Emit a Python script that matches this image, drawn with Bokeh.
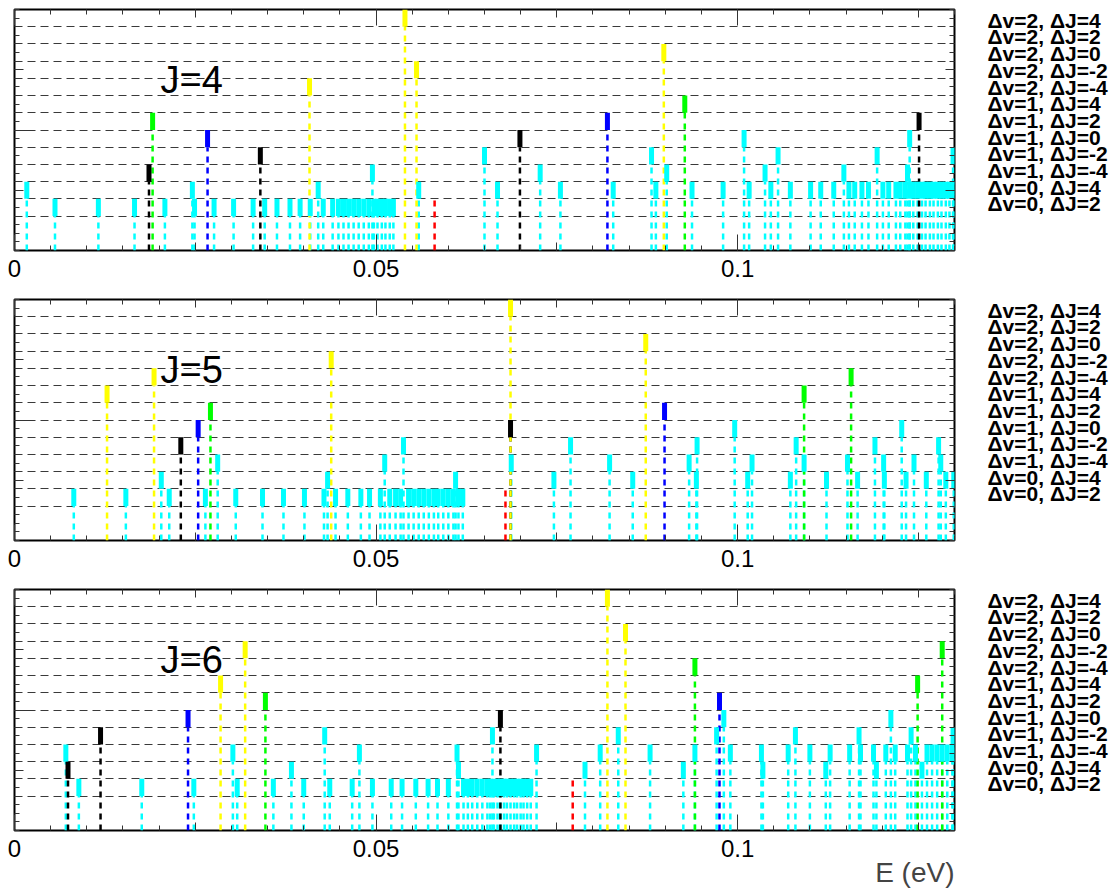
from bokeh.plotting import figure
from bokeh.models import Range1d, FixedTicker, LinearAxis, ColumnDataSource, Title
from bokeh.layouts import column, row
from bokeh.core.properties import value
from bokeh.embed import file_html
from bokeh.resources import INLINE

# ---------------------------------------------------------------------------
# Data: transition energies (eV) and the level at which each marker ends
# ---------------------------------------------------------------------------
E_MAX = 0.13
LEVEL_MAX = 14

ROW_LABELS = ["Δv=2, ΔJ=4", "Δv=2, ΔJ=2", "Δv=2, ΔJ=0", "Δv=2, ΔJ=-2", "Δv=2, ΔJ=-4",
              "Δv=1, ΔJ=4", "Δv=1, ΔJ=2", "Δv=1, ΔJ=0", "Δv=1, ΔJ=-2", "Δv=1, ΔJ=-4",
              "Δv=0, ΔJ=4", "Δv=0, ΔJ=2"]
X_TICKS = [0, 0.05, 0.1]
X_TICK_LABELS = ["0", "0.05", "0.1"]
PANEL_NAMES = ["J=4", "J=5", "J=6"]

# J = 4
J4_CYAN = [(0.0017, 4), (0.0056, 3), (0.0116, 3), (0.0166, 3), (0.0208, 3), (0.0246, 4), (0.0249, 3),
           (0.0276, 3), (0.0303, 3), (0.0330, 3), (0.0346, 3), (0.0363, 3), (0.0381, 3), (0.0395, 3),
           (0.0409, 3), (0.0420, 4), (0.0427, 3), (0.0440, 3), (0.0448, 3), (0.0455, 3), (0.0462, 3),
           (0.0469, 3), (0.0476, 3), (0.0483, 3), (0.0490, 3), (0.0495, 5), (0.0497, 3), (0.0502, 3),
           (0.0508, 3), (0.0513, 3), (0.0519, 3), (0.0524, 3), (0.0559, 4), (0.0650, 6), (0.0668, 4),
           (0.0727, 5), (0.0755, 4), (0.0828, 4), (0.0881, 6), (0.0887, 4), (0.0902, 5), (0.0937, 4),
           (0.0980, 4), (0.1009, 7), (0.1016, 4), (0.1038, 5), (0.1046, 4), (0.1056, 6), (0.1073, 4),
           (0.1101, 4), (0.1115, 4), (0.1133, 4), (0.1147, 5), (0.1154, 4), (0.1162, 4), (0.1172, 4),
           (0.1181, 4), (0.1193, 6), (0.1201, 4), (0.1209, 4), (0.1219, 4), (0.1225, 4), (0.1232, 4),
           (0.1235, 5), (0.1238, 7), (0.1238, 4), (0.1243, 4), (0.1249, 4), (0.1255, 4), (0.1260, 4),
           (0.1266, 4), (0.1271, 4), (0.1277, 4), (0.1282, 4), (0.1288, 4), (0.1293, 4), (0.1298, 6),
           (0.1299, 4)]
J4_YELLOW = [(0.0408, 10), (0.0540, 14), (0.0556, 11), (0.0898, 12)]
J4_GREEN = [(0.0191, 8), (0.0927, 9)]
J4_BLUE = [(0.0267, 7), (0.0820, 8)]
J4_BLACK = [(0.0186, 5), (0.0340, 6), (0.0699, 7), (0.1251, 8)]
J4_RED = [(0.0581, 3)]

# J = 5
J5_CYAN = [(0.0082, 3), (0.0154, 3), (0.0203, 4), (0.0214, 3), (0.0264, 3), (0.0281, 5), (0.0306, 3),
           (0.0343, 3), (0.0372, 3), (0.0401, 3), (0.0428, 3), (0.0433, 4), (0.0444, 3), (0.0461, 3),
           (0.0479, 3), (0.0491, 3), (0.0506, 3), (0.0512, 5), (0.0519, 3), (0.0527, 3), (0.0534, 3),
           (0.0538, 6), (0.0545, 3), (0.0552, 3), (0.0559, 3), (0.0566, 3), (0.0573, 3), (0.0580, 3),
           (0.0586, 3), (0.0593, 3), (0.0600, 3), (0.0607, 3), (0.0610, 4), (0.0614, 3), (0.0620, 3),
           (0.0687, 5), (0.0746, 4), (0.0769, 6), (0.0823, 5), (0.0855, 4), (0.0933, 5), (0.0943, 4),
           (0.0944, 6), (0.0996, 7), (0.1014, 4), (0.1020, 5), (0.1073, 4), (0.1081, 6), (0.1092, 5),
           (0.1123, 4), (0.1152, 5), (0.1166, 4), (0.1190, 6), (0.1202, 5), (0.1203, 4), (0.1227, 7),
           (0.1233, 4), (0.1244, 5), (0.1261, 4), (0.1278, 6), (0.1281, 5), (0.1288, 4), (0.1299, 4)]
J5_YELLOW = [(0.0128, 9), (0.0193, 10), (0.0438, 11), (0.0686, 14), (0.0873, 12)]
J5_GREEN = [(0.0271, 8), (0.1092, 9), (0.1157, 10)]
J5_BLUE = [(0.0254, 7), (0.0899, 8)]
J5_BLACK = [(0.0230, 6), (0.0686, 7)]
J5_RED = [(0.0679, 3)]

# J = 6
J6_CYAN = [(0.0071, 5), (0.0089, 3), (0.0176, 3), (0.0248, 3), (0.0302, 5), (0.0308, 3), (0.0358, 3),
           (0.0383, 4), (0.0400, 3), (0.0429, 6), (0.0436, 3), (0.0467, 3), (0.0477, 5), (0.0495, 3),
           (0.0521, 3), (0.0536, 3), (0.0555, 3), (0.0572, 3), (0.0585, 3), (0.0600, 3), (0.0612, 5),
           (0.0614, 4), (0.0621, 3), (0.0627, 3), (0.0633, 3), (0.0640, 3), (0.0647, 3), (0.0654, 3),
           (0.0658, 3), (0.0661, 6), (0.0663, 3), (0.0668, 3), (0.0672, 3), (0.0677, 3), (0.0681, 3),
           (0.0686, 3), (0.0691, 3), (0.0695, 3), (0.0700, 3), (0.0704, 3), (0.0709, 3), (0.0714, 3),
           (0.0722, 5), (0.0789, 4), (0.0810, 5), (0.0835, 6), (0.0879, 5), (0.0925, 4), (0.0941, 5),
           (0.0971, 6), (0.0981, 7), (0.0990, 5), (0.1033, 5), (0.1035, 4), (0.1070, 5), (0.1080, 6),
           (0.1100, 5), (0.1122, 4), (0.1128, 5), (0.1155, 5), (0.1168, 6), (0.1170, 5), (0.1188, 5),
           (0.1192, 4), (0.1205, 5), (0.1212, 7), (0.1218, 5), (0.1235, 5), (0.1240, 6), (0.1246, 5),
           (0.1255, 4), (0.1262, 5), (0.1269, 5), (0.1276, 5), (0.1283, 5), (0.1290, 5), (0.1297, 5),
           (0.1298, 6)]
J6_YELLOW = [(0.0285, 9), (0.0319, 11), (0.0820, 14), (0.0845, 12)]
J6_GREEN = [(0.0347, 8), (0.0941, 10), (0.1249, 9), (0.1283, 11)]
J6_BLUE = [(0.0240, 7), (0.0975, 8)]
J6_BLACK = [(0.0074, 4), (0.0119, 6), (0.0672, 7)]
J6_RED = [(0.0772, 3)]

PANELS = [
    {"cyan": J4_CYAN, "red": J4_RED, "black": J4_BLACK, "blue": J4_BLUE, "green": J4_GREEN, "yellow": J4_YELLOW},
    {"cyan": J5_CYAN, "red": J5_RED, "black": J5_BLACK, "blue": J5_BLUE, "green": J5_GREEN, "yellow": J5_YELLOW},
    {"cyan": J6_CYAN, "red": J6_RED, "black": J6_BLACK, "blue": J6_BLUE, "green": J6_GREEN, "yellow": J6_YELLOW},
]

# ---------------------------------------------------------------------------
# Styling
# ---------------------------------------------------------------------------
COLORS = {"cyan": "#00ffff", "red": "#ff0000", "black": "#000000",
          "blue": "#0000ff", "green": "#00ff00", "yellow": "#ffff00"}
ORDER = ["cyan", "red", "black", "blue", "green", "yellow"]
FONT = "Liberation Sans"
TICK_COLOR = "#333333"

PLOT_W = 970
LABEL_W = 142
PAGE_H = 890
PANEL_HEIGHTS = [290, 290, 310]
BORDER_LEFT = 14
BORDER_RIGHT = 16
BORDER_TOP = 9
FRAME_H = 241

# tick sets: (positions, inward length in px)
X_SHORT = ([round(i * 0.005, 3) for i in range(27)], 5)
X_MEDIUM = ([0.025, 0.075, 0.125], 8)
X_LONG = (X_TICKS, 16)
Y_SHORT = ([i * 0.5 for i in range(29)], 5)
Y_MEDIUM = ([3.5, 10.5], 9)
Y_LONG = ([7], 19)


def tick_only_axis(ticks, length):
    # an axis that only carries inward (minor) ticks, so it draws no text
    return LinearAxis(ticker=FixedTicker(ticks=[], minor_ticks=ticks),
                      axis_line_color=None, major_tick_in=0, major_tick_out=0,
                      minor_tick_in=length, minor_tick_out=0,
                      minor_tick_line_color=TICK_COLOR, minor_tick_line_width=1,
                      major_label_standoff=0)


def make_panel(name, series, height, with_xlabel):
    border_bottom = height - BORDER_TOP - FRAME_H
    p = figure(width=PLOT_W, height=height,
               x_range=Range1d(0, E_MAX), y_range=Range1d(0, LEVEL_MAX),
               output_backend="svg", toolbar_location=None,
               x_axis_location=None, y_axis_location=None,
               min_border_left=BORDER_LEFT, min_border_right=BORDER_RIGHT,
               min_border_top=BORDER_TOP, min_border_bottom=border_bottom)
    p.background_fill_color = "white"
    p.border_fill_color = "white"
    p.outline_line_color = "black"
    p.outline_line_width = 2

    # ticks on all four sides, pointing into the frame
    for ticks, length in (X_SHORT, X_MEDIUM):
        p.add_layout(tick_only_axis(ticks, length), "below")
    for ticks, length in (X_SHORT, X_MEDIUM, X_LONG):
        p.add_layout(tick_only_axis(ticks, length), "above")
    for side in ("left", "right"):
        for ticks, length in (Y_SHORT, Y_MEDIUM, Y_LONG):
            p.add_layout(tick_only_axis(ticks, length), side)

    bottom = LinearAxis(ticker=FixedTicker(ticks=X_TICKS, minor_ticks=[]),
                        axis_line_color=None, major_tick_in=16, major_tick_out=0,
                        major_tick_line_color=TICK_COLOR, major_tick_line_width=1,
                        minor_tick_in=0, minor_tick_out=0,
                        major_label_overrides={t: s for t, s in zip(X_TICKS, X_TICK_LABELS)},
                        major_label_text_font=FONT, major_label_text_font_size="24px",
                        major_label_text_color="black", major_label_standoff=9)
    p.add_layout(bottom, "below")

    # horizontal dashed level lines
    p.xgrid.visible = False
    p.ygrid.ticker = FixedTicker(ticks=list(range(2, 14)))
    p.ygrid.grid_line_color = "#3a3a3a"
    p.ygrid.grid_line_dash = "8 5"
    p.ygrid.grid_line_width = 1

    # dashed stems from zero up to one level below each marker
    for key in ORDER:
        pts = series[key]
        e = [v[0] for v in pts]
        lvl = [v[1] for v in pts]
        stem_top = lvl if key == "red" else [v - 1 for v in lvl]
        src = ColumnDataSource(dict(x=e, y0=[0] * len(e), y1=stem_top))
        p.segment(x0="x", y0="y0", x1="x", y1="y1", source=src,
                  line_color=COLORS[key], line_width=2.5, line_dash="6 5", line_cap="butt")

    # solid caps spanning the last level of each marker
    for key in ORDER:
        if key == "red":
            continue
        pts = series[key]
        e = [v[0] for v in pts]
        lvl = [v[1] for v in pts]
        src = ColumnDataSource(dict(x=e, y0=[v - 1 for v in lvl], y1=lvl))
        p.segment(x0="x", y0="y0", x1="x", y1="y1", source=src,
                  line_color=COLORS[key], line_width=5, line_cap="butt")

    # panel name
    p.text(x=[0.0202], y=[9.88], text=[name], text_font=value(FONT),
           text_font_size="38px", text_color="black", text_baseline="alphabetic")

    if with_xlabel:
        p.add_layout(Title(text="E (eV)", align="right", text_font=FONT,
                           text_font_size="28px", text_font_style="normal",
                           standoff=-9), "below")
    return p


panels = column(*[make_panel(PANEL_NAMES[i], PANELS[i], PANEL_HEIGHTS[i], i == 2) for i in range(3)])

# column of transition-class names beside each panel (y measured down from the page top)
side = figure(frame_width=LABEL_W, frame_height=PAGE_H,
              x_range=Range1d(0, LABEL_W), y_range=Range1d(PAGE_H, 0),
              output_backend="svg", toolbar_location=None, min_border=0,
              x_axis_location=None, y_axis_location=None)
side.outline_line_color = None
side.grid.visible = False
side.background_fill_color = "white"
side.border_fill_color = "white"
tops = [0, PANEL_HEIGHTS[0], PANEL_HEIGHTS[0] + PANEL_HEIGHTS[1]]
lx, ly, lt = [], [], []
for top in tops:
    for i, s in enumerate(ROW_LABELS):
        lx.append(17)
        ly.append(top + 19.7 + 16.7 * i)
        lt.append(s)
side.text(x=lx, y=ly, text=lt, text_font=value(FONT), text_font_style="bold",
          text_font_size="21px", text_color="black", text_baseline="middle", text_align="left")

layout = row(panels, side)

open("out.html", "w").write(file_html(layout, INLINE))
